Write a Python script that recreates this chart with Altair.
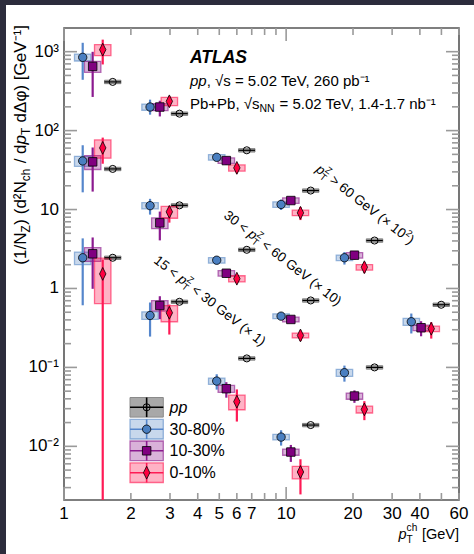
import math
import altair as alt
import pandas as pd

FONT = "Liberation Sans"
W, H = 395, 472
XDOM = [1, 60]
YDOM = [0.00209, 1995]

# ---------------- data ----------------
groups = ["gt60", "30to60", "15to30"]

x_pos = {
    "blue":   [1.214, 2.44, 4.87, 9.49, 18.3, 36.6],
    "purple": [1.346, 2.70, 5.38, 10.5, 20.3, 40.5],
    "pink":   [1.494, 2.98, 6.00, 11.6, 22.5, 45.0],
    "pp":     [1.657, 3.31, 6.65, 12.9, 25.0, 49.9],
}

y_blue = {"gt60": [847, 199, 45.9, 11.6, 2.45, 0.379],
          "30to60": [41.3, 11.2, 2.28, 0.446, 0.0857],
          "15to30": [2.45, 0.455, 0.0671, 0.0131]}
y_purple = {"gt60": [651, 199, 41.7, 13.0, 2.64, 0.318],
            "30to60": [40.2, 6.78, 1.56, 0.405, 0.0434],
            "15to30": [2.75, 0.609, 0.0537, 0.00847]}
y_pink = {"gt60": [1060, 235, 33.7, 9.08, 1.86, 0.309],
          "30to60": [60.4, 9.35, 1.33, 0.254, 0.0294],
          "15to30": [1.53, 0.492, 0.0368, 0.00473]}
y_pp = {"gt60": [414, 164, 56.3, 17.4, 4.05, 0.622],
        "30to60": [32.7, 11.3, 3.09, 0.705, 0.100],
        "15to30": [2.45, 0.678, 0.130, 0.0186]}

# relative statistical uncertainties (up, down)
stat_up_blue = {"gt60": [0.53, 0.24, 0.09, 0.15, 0.18, 0.27], "30to60": [0.58, 0.22, 0.09, 0.10, 0.23], "15to30": [0.76, 0.46, 0.22, 0.22]}
stat_dn_blue = {"gt60": [0.48, 0.20, 0.09, 0.15, 0.18, 0.29], "30to60": [0.60, 0.23, 0.09, 0.10, 0.23], "15to30": [0.75, 0.46, 0.22, 0.22]}
stat_up_purple = {"gt60": [0.53, 0.20, 0.12, 0.10, 0.12, 0.21], "30to60": [0.52, 0.39, 0.12, 0.09, 0.18], "15to30": [0.61, 0.31, 0.21, 0.23]}
stat_dn_purple = {"gt60": [0.59, 0.24, 0.12, 0.10, 0.12, 0.22], "30to60": [0.58, 0.40, 0.12, 0.09, 0.18], "15to30": [0.64, 0.33, 0.23, 0.25]}
stat_up_pink = {"gt60": [0.34, 0.16, 0.15, 0.19, 0.16, 0.21], "30to60": [0.35, 0.18, 0.12, 0.15, 0.27], "15to30": [0.52, 0.27, 0.43, 0.45]}
stat_dn_pink = {"gt60": [0.35, 0.15, 0.15, 0.19, 0.16, 0.25], "30to60": [0.37, 0.27, 0.12, 0.15, 0.27], "15to30": [1.00, 0.47, 0.44, 0.48]}

# relative systematic uncertainties
sys_blue = {"gt60": [0.10, 0.09, 0.08, 0.08, 0.08, 0.10], "30to60": [0.145, 0.09, 0.08, 0.07, 0.10], "15to30": [0.18, 0.11, 0.09, 0.08]}
sys_purple = {"gt60": [0.16, 0.10, 0.08, 0.08, 0.08, 0.08], "30to60": [0.20, 0.155, 0.08, 0.07, 0.09], "15to30": [0.20, 0.15, 0.10, 0.09]}
sys_pink = {"gt60": [0.16, 0.12, 0.09, 0.08, 0.08, 0.08], "30to60": [0.26, 0.17, 0.09, 0.07, 0.10], "15to30": [0.58, 0.23, 0.21, 0.18]}
sys_pp = 0.05

# tick labels
y_tick_vals = [1e-2, 1e-1, 1, 10, 100, 1000]
y_tick_text = ["10⁻²", "10⁻¹", "1", "10", "10²", "10³"]
x_tick_vals = [1, 2, 3, 4, 5, 6, 7, 10, 20, 30, 40, 60]
x_tick_text = ["1", "2", "3", "4", "5", "6", "7", "10", "20", "30", "40", "60"]

colors = {"blue": "#4a7fc1", "purple": "#800080", "pink": "#ff0040"}
err_colors = {"blue": "#5586cc", "purple": "#8b1a8f", "pink": "#ff1a55"}

BOXF = 10 ** 0.037


def build(name, yd, sup=None, sdn=None, sy=None):
    rows = []
    for g in groups:
        for i, y in enumerate(yd[g]):
            x = x_pos[name][i]
            up = sup[g][i] if sup else 0.0
            dn = sdn[g][i] if sdn else 0.0
            s = sy[g][i] if isinstance(sy, dict) else sy
            rows.append(dict(x=x, y=y, xl=x / BOXF, xr=x * BOXF,
                             s_lo=max(y * (1 - dn), 1e-5), s_hi=y * (1 + up),
                             b_lo=y * (1 - s), b_hi=y * (1 + s)))
    return pd.DataFrame(rows)


df_blue = build("blue", y_blue, stat_up_blue, stat_dn_blue, sys_blue)
df_purple = build("purple", y_purple, stat_up_purple, stat_dn_purple, sys_purple)
df_pink = build("pink", y_pink, stat_up_pink, stat_dn_pink, sys_pink)
df_pp = build("pp", y_pp, None, None, sys_pp)

xs = alt.Scale(type="log", domain=XDOM)
ys = alt.Scale(type="log", domain=YDOM)

X = lambda f: alt.X(f + ":Q", scale=xs, axis=None)
Y = lambda f: alt.Y(f + ":Q", scale=ys, axis=None)

layers = []
one = pd.DataFrame({"a": [0]})

# dark frame bands of the original screenshot
layers.append(alt.Chart(one).mark_rect(color="#2c2c3c").encode(
    x=alt.value(-64), x2=alt.value(-58), y=alt.value(-28), y2=alt.value(H + 54)))
layers.append(alt.Chart(one).mark_rect(color="#2c2c3c").encode(
    x=alt.value(-64), x2=alt.value(W + 15), y=alt.value(-28), y2=alt.value(-23)))

# ---------------- ticks & tick labels ----------------
ymaj = y_tick_vals
ymin = [m * 10 ** d for d in range(-3, 4) for m in range(2, 10) if YDOM[0] <= m * 10 ** d <= YDOM[1]]
xmaj = [1, 10]
xmin = [2, 3, 4, 5, 6, 7, 8, 9, 20, 30, 40, 50, 60]

TICKC = "#9a9a9a"
tk_ymaj = pd.DataFrame({"v": ymaj})
tk_ymin = pd.DataFrame({"v": ymin})
tk_xmaj = pd.DataFrame({"v": xmaj})
tk_xmin = pd.DataFrame({"v": xmin})

for d, L in ((tk_ymaj, 13), (tk_ymin, 7)):
    layers.append(alt.Chart(d).mark_rule(color=TICKC, strokeWidth=1.6).encode(
        y=Y("v"), x=alt.value(0), x2=alt.value(L)))
    layers.append(alt.Chart(d).mark_rule(color=TICKC, strokeWidth=1.6).encode(
        y=Y("v"), x=alt.value(W - L), x2=alt.value(W)))
for d, L in ((tk_xmaj, 13), (tk_xmin, 7)):
    layers.append(alt.Chart(d).mark_rule(color=TICKC, strokeWidth=1.6).encode(
        x=X("v"), y=alt.value(H), y2=alt.value(H - L)))
    layers.append(alt.Chart(d).mark_rule(color=TICKC, strokeWidth=1.6).encode(
        x=X("v"), y=alt.value(0), y2=alt.value(L)))

ylab = pd.DataFrame({"v": y_tick_vals, "t": y_tick_text})
xlab = pd.DataFrame({"v": x_tick_vals, "t": x_tick_text})
layers.append(alt.Chart(ylab).mark_text(align="right", baseline="middle", font=FONT, fontSize=17,
                                        color="black").encode(
    y=Y("v"), x=alt.value(-5), text="t:N"))
layers.append(alt.Chart(xlab).mark_text(align="center", baseline="top", font=FONT, fontSize=17,
                                        color="black").encode(
    x=X("v"), y=alt.value(H + 6), text="t:N"))

# ---------------- data marks ----------------
layers.append(alt.Chart(df_pp).mark_rect(fill="#a3a3a3", stroke="#6e6e6e", strokeWidth=0.8, clip=True).encode(
    x=X("xl"), x2="xr", y=Y("b_lo"), y2="b_hi"))
for name, d in (("blue", df_blue), ("purple", df_purple), ("pink", df_pink)):
    c = colors[name]
    layers.append(alt.Chart(d).mark_rect(fill=c, fillOpacity=0.3, stroke=c, strokeOpacity=0.55,
                                         strokeWidth=1.3, clip=True).encode(
        x=X("xl"), x2="xr", y=Y("b_lo"), y2="b_hi"))
for name, d in (("blue", df_blue), ("purple", df_purple), ("pink", df_pink)):
    layers.append(alt.Chart(d).mark_rule(color=err_colors[name], strokeWidth=2.2, clip=True).encode(
        x=X("x"), y=Y("s_lo"), y2="s_hi"))
layers.append(alt.Chart(df_pp).mark_rule(color="black", strokeWidth=1.2, clip=True).encode(
    x=X("xl"), x2="xr", y=Y("y")))
layers.append(alt.Chart(df_pp).mark_point(shape="circle", color="black", strokeWidth=1.0, size=50,
                                          opacity=1, clip=True).encode(x=X("x"), y=Y("y")))
DIAMOND = "M0,-1.6L0.8,0L0,1.6L-0.8,0Z"
shapes = {"blue": ("circle", 70), "purple": ("square", 72), "pink": (DIAMOND, 64)}
for name, d in (("blue", df_blue), ("purple", df_purple), ("pink", df_pink)):
    shp, sz = shapes[name]
    layers.append(alt.Chart(d).mark_point(shape=shp, size=sz, filled=True, fill=colors[name],
                                          stroke="black", strokeWidth=0.8, opacity=1, fillOpacity=1,
                                          clip=True).encode(x=X("x"), y=Y("y")))

# ---------------- legend ----------------
leg_rows = [("pp", None, 379.3), ("30-80%", "blue", 401.2), ("10-30%", "purple", 422.8), ("0-10%", "pink", 444.7)]
LX0, LX1 = 66, 99.3
LXC = (LX0 + LX1) / 2
for label, name, cy in leg_rows:
    if name is None:
        layers.append(alt.Chart(one).mark_rect(fill="#a8a8a8", stroke="#8a8a8a", strokeWidth=1).encode(
            x=alt.value(LX0), x2=alt.value(LX1), y=alt.value(cy - 9.8), y2=alt.value(cy + 9.8)))
        lc = "black"
    else:
        c = colors[name]
        layers.append(alt.Chart(one).mark_rect(fill=c, fillOpacity=0.3, stroke=c, strokeOpacity=0.55,
                                               strokeWidth=1.3).encode(
            x=alt.value(LX0), x2=alt.value(LX1), y=alt.value(cy - 9.8), y2=alt.value(cy + 9.8)))
        lc = err_colors[name]
    layers.append(alt.Chart(one).mark_rule(color=lc, strokeWidth=1.6).encode(
        x=alt.value(LX0), x2=alt.value(LX1), y=alt.value(cy)))
    layers.append(alt.Chart(one).mark_rule(color=lc, strokeWidth=1.6).encode(
        x=alt.value(LXC), y=alt.value(cy - 9.8), y2=alt.value(cy + 9.8)))
    if name is None:
        layers.append(alt.Chart(one).mark_point(shape="circle", color="black", strokeWidth=1.0, size=50,
                                                opacity=1).encode(x=alt.value(LXC), y=alt.value(cy)))
    else:
        shp, sz = shapes[name]
        layers.append(alt.Chart(one).mark_point(shape=shp, size=sz, filled=True, fill=colors[name],
                                                stroke="black", strokeWidth=0.8, opacity=1,
                                                fillOpacity=1).encode(x=alt.value(LXC), y=alt.value(cy)))
    layers.append(alt.Chart(one).mark_text(align="left", baseline="middle", font=FONT, fontSize=16,
                                           fontStyle="italic" if name is None else "normal",
                                           color="black").encode(
        x=alt.value(105.5), y=alt.value(cy + 0.5), text=alt.value(label)))

# ---------------- rich text helper ----------------
WID = {' ': 278, '(': 333, ')': 333, '/': 278, '[': 278, ']': 278, '<': 584, '>': 584,
       '=': 584, '+': 584, '×': 584, ',': 278, '.': 278, '-': 333, '%': 889, '√': 549, 'Δ': 668,
       'φ': 650, '²': 333, '⁻': 333, '¹': 333, 'A': 667, 'G': 778, 'L': 556, 'N': 722, 'P': 667,
       'S': 667, 'T': 611, 'V': 667, 'Z': 611, 'a': 556, 'b': 556, 'c': 500, 'd': 556, 'e': 556,
       'h': 556, 'n': 556, 'p': 556, 's': 500, 't': 278}


def tw(s, fs):
    return sum(WID.get(ch, 556) for ch in s) * fs / 1000.0


def rich(segs, x0, y0, ang, fs, sub_off=0.22, sup_off=0.42):
    th = math.radians(ang)
    ux, uy = math.cos(th), math.sin(th)
    vx, vy = math.sin(th), -math.cos(th)
    adv = 0.0
    out = []
    for seg in segs:
        text, kind, style = seg[0], seg[1], seg[2]
        noadv = len(seg) > 3 and seg[3]
        if kind == "n":
            s, off, extra = fs, 0.0, 0.0
        elif kind == "sub":
            s, off, extra = fs * 0.7, -sub_off * fs, 0.6
        else:
            s, off, extra = fs * 0.7, sup_off * fs, 0.6
        lead = len(text) - len(text.lstrip(" "))
        core = text.strip(" ")
        a0 = adv + tw(" " * lead, s)
        out.append(dict(text=core, x=x0 + ux * a0 + vx * off, y=y0 + uy * a0 + vy * off,
                        size=s, angle=ang % 360, style=style))
        if not noadv:
            adv += tw(text, s) + extra
    return out


def width_of(segs, fs):
    t = 0.0
    for seg in segs:
        s = fs if seg[1] == "n" else fs * 0.7
        if not (len(seg) > 3 and seg[3]):
            t += tw(seg[0], s) + (0 if seg[1] == "n" else 0.6)
    return t


texts = []
texts.append(dict(text="ATLAS", x=126, y=35, size=17.5, angle=0, style="italic", weight="bold"))
texts += rich([("pp", "n", "italic"), (", √s = 5.02 TeV, 260 pb⁻¹", "n", "normal")], 126, 57.5, 0, 15)
texts += rich([("Pb+Pb, √s", "n", "normal"), ("NN", "sub", "normal"),
               (" = 5.02 TeV, 1.4-1.7 nb⁻¹", "n", "normal")], 126, 80.5, 0, 15)

RF = 13.5
texts += rich([("p", "n", "italic"), ("Z", "sup", "normal", True), ("T", "sub", "normal"),
               (" > 60 GeV (× 10", "n", "normal"), ("2", "sup", "normal"), (")", "n", "normal")],
              251, 143, 38, RF)
texts += rich([("30 < ", "n", "normal"), ("p", "n", "italic"), ("Z", "sup", "normal", True),
               ("T", "sub", "normal"), (" < 60 GeV (× 10)", "n", "normal")], 159, 189, 38, RF)
texts += rich([("15 < ", "n", "normal"), ("p", "n", "italic"), ("Z", "sup", "normal", True),
               ("T", "sub", "normal"), (" < 30 GeV (× 1)", "n", "normal")], 89, 234, 38, RF)

YF = 17
ysegs = [("(1/N", "n", "normal"), ("Z", "sub", "normal"), (") (d²N", "n", "normal"),
         ("ch", "sub", "normal"), (" / d", "n", "normal"), ("p", "n", "italic"),
         ("T", "sub", "normal"), (" dΔφ) [GeV⁻¹]", "n", "normal")]
ylen = width_of(ysegs, YF)
texts += rich(ysegs, -37.6, 117 + ylen / 2, 270, YF)

XF = 14.5
xsegs = [("p", "n", "italic"), ("T", "sub", "normal", True), ("ch", "sup", "normal"),
         (" [GeV]", "n", "normal")]
xlen = width_of(xsegs, XF)
texts += rich(xsegs, W - xlen, 511, 0, XF, sub_off=0.3, sup_off=0.52)

for t in texts:
    layers.append(alt.Chart(one).mark_text(
        align="left", baseline="alphabetic", font=FONT, fontSize=round(t["size"], 2),
        fontStyle=t["style"], fontWeight=t.get("weight", "normal"), angle=round(t["angle"], 2),
        color="black").encode(x=alt.value(round(t["x"], 2)), y=alt.value(round(t["y"], 2)),
                              text=alt.value(t["text"])))

chart = alt.layer(*layers).properties(
    width=W, height=H, autosize="none",
    padding={"left": 64, "top": 28, "right": 15, "bottom": 54},
    background="white",
).configure_view(stroke="#555555", strokeWidth=1.6)

chart.save("out.html", embed_options={"renderer": "svg", "actions": False})
